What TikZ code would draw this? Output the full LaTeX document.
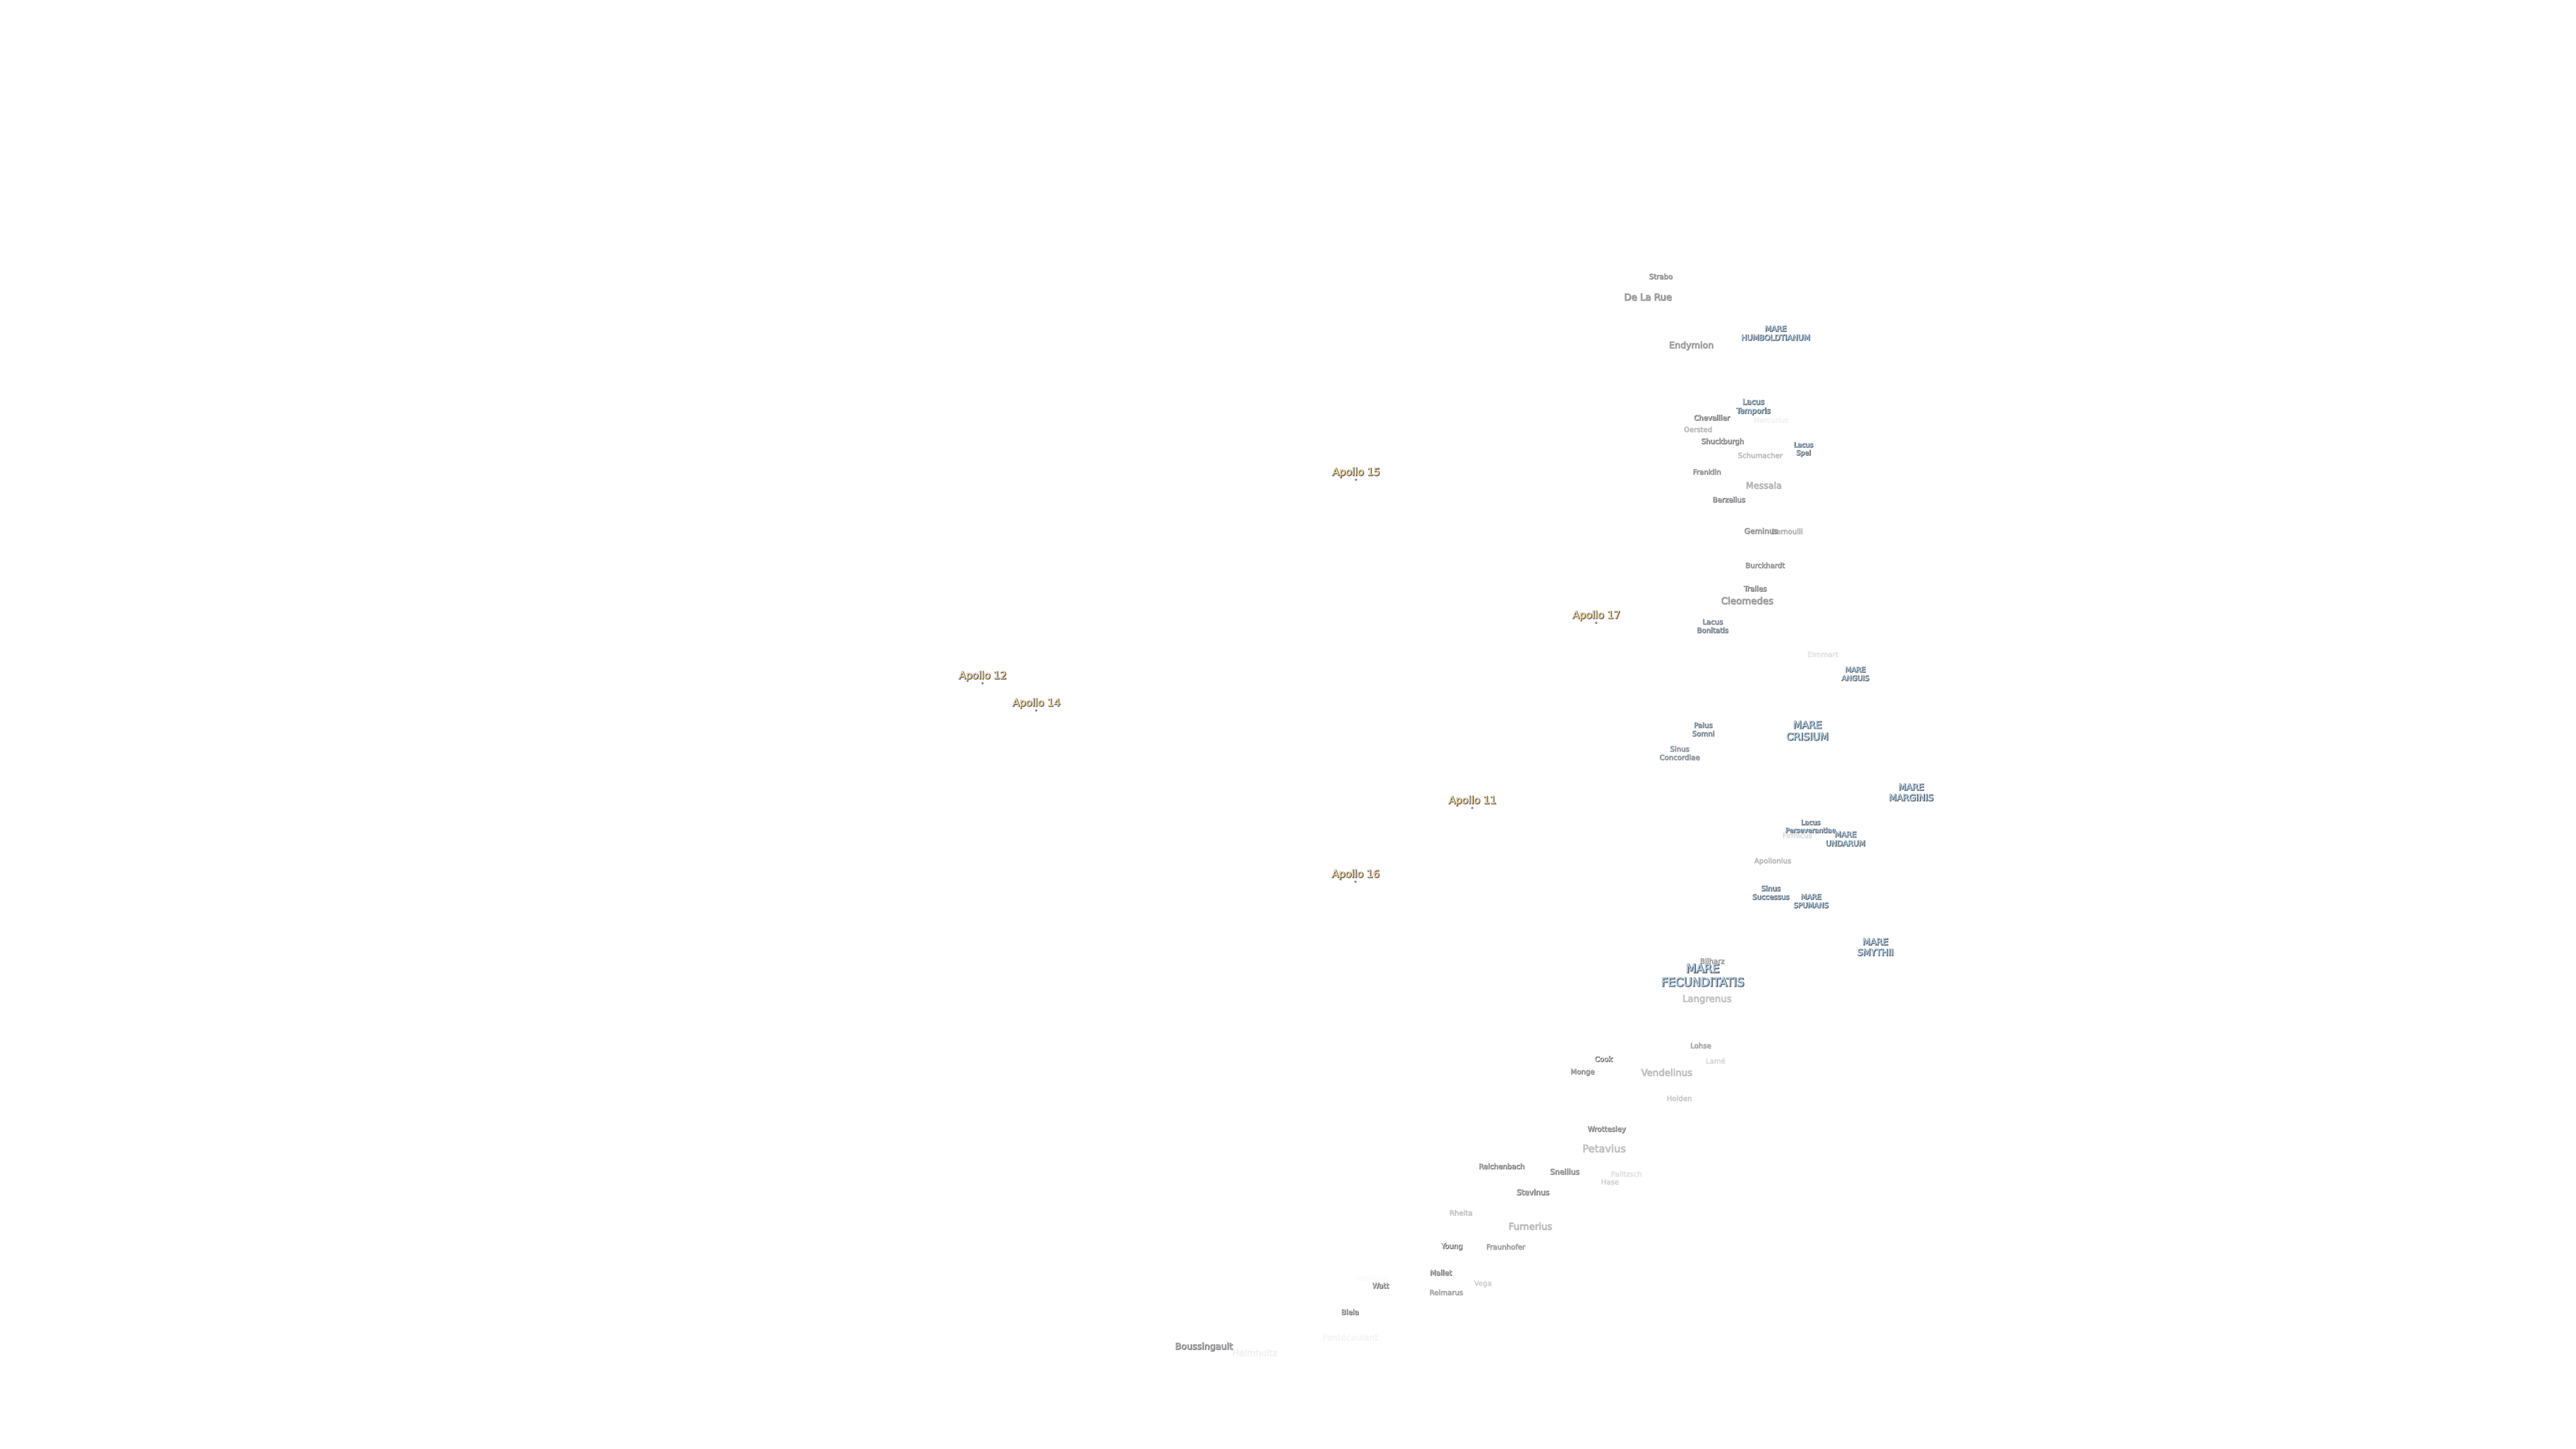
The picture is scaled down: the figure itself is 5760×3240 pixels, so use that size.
\documentclass[tikz,border=0pt]{standalone}
\usepackage{fontspec}
\setmainfont{DejaVu Sans}
\usepackage{xcolor}
\usepackage{tikz}
\definecolor{marefill}{rgb}{0.72, 0.85, 0.95}
\definecolor{apollofill}{rgb}{0.96, 0.86, 0.64}
\definecolor{craterfill}{rgb}{0.93, 0.93, 0.93}
\definecolor{rimedge}{rgb}{0.26, 0.26, 0.28}
\definecolor{rimhalo}{rgb}{0.62, 0.62, 0.63}
\newcommand{\rim}[1]{\leavevmode\rlap{\kern.4pt\raisebox{-.4pt}{\addfontfeature{FakeBold=8}\textcolor{rimhalo}{#1}}}\rlap{\kern.15pt\raisebox{-.15pt}{\addfontfeature{FakeBold=6}\textcolor{rimedge}{#1}}}{\addfontfeature{FakeBold=1.5}\textcolor{rimfill}{#1}}}
\tikzset{
    lbl/.style 2 args={inner sep=0pt, align=center, text opacity=#2, yshift=-.3pt,
        font=\fontsize{#1}{\dimexpr #1pt*118/100\relax}\selectfont},
    crater/.style 2 args={lbl={#1}{#2}, execute at begin node={\colorlet{rimfill}{craterfill}}},
    mare/.style 2 args={lbl={#1}{#2}, execute at begin node={\colorlet{rimfill}{marefill}}},
    apollo/.style={lbl={5.7}{1}, execute at begin node={\colorlet{rimfill}{apollofill}}},
    sitedot/.style={circle, fill=apollofill, draw=rimedge, line width=.2pt, inner sep=0pt, minimum size=1pt}
}

\begin{document}
\begin{tikzpicture}[x=.25pt, y=-.25pt]
    \useasboundingbox (0,0) rectangle (5760,3240);

    % Landing sites
    \node[apollo] (a15) at (3032,1056) {\rim{Apollo 15}};
    \node[apollo] (a17) at (3569,1376) {\rim{Apollo 17}};
    \node[apollo] (a12) at (2197,1511) {\rim{Apollo 12}};
    \node[apollo] (a14) at (2317,1572) {\rim{Apollo 14}};
    \node[apollo] (a11) at (3292,1790) {\rim{Apollo 11}};
    \node[apollo] (a16) at (3031,1955) {\rim{Apollo 16}};
    \node[sitedot] (s15) at (3032,1073) {};
    \node[sitedot] (s17) at (3569,1393) {};
    \node[sitedot] (s12) at (2197,1528) {};
    \node[sitedot] (s14) at (2317,1589) {};
    \node[sitedot] (s11) at (3292,1807) {};
    \node[sitedot] (s16) at (3031,1972) {};

    % Maria, lakes
    \node[mare={4.25}{1}] (humboldtianum) at (3970,744) {\rim{MARE}\\\rim{HUMBOLDTIANUM}};
    \node[mare={4.25}{1}] (temporis) at (3920,909) {\rim{Lacus}\\\rim{Temporis}};
    \node[mare={3.75}{1}] (spei) at (4032,1004) {\rim{Lacus}\\\rim{Spei}};
    \node[mare={4}{.55}] (bonitatis) at (3829,1399) {\rim{Lacus}\\\rim{Bonitatis}};
    \node[mare={4}{1}] (anguis) at (4148,1506) {\rim{MARE}\\\rim{ANGUIS}};
    \node[mare={4}{.55}] (somni) at (3808,1630) {\rim{Palus}\\\rim{Somni}};
    \node[mare={5.6}{1}] (crisium) at (4041,1633) {\rim{MARE}\\\rim{CRISIUM}};
    \node[mare={4}{.4}] (concordiae) at (3755,1683) {\rim{Sinus}\\\rim{Concordiae}};
    \node[mare={5}{1}] (marginis) at (4273,1771) {\rim{MARE}\\\rim{MARGINIS}};
    \node[crater={4}{.09}] (firmicus) at (4018,1867) {\rim{Firmicus}};
    \node[mare={3.75}{1}] (perseverantiae) at (4048,1847) {\rim{Lacus}\\\rim{Perseverantiae}};
    \node[mare={4.25}{1}] (undarum) at (4126,1875) {\rim{MARE}\\\rim{UNDARUM}};
    \node[mare={4}{.9}] (successus) at (3959,1995) {\rim{Sinus}\\\rim{Successus}};
    \node[mare={4}{1}] (spumans) at (4049,2014) {\rim{MARE}\\\rim{SPUMANS}};
    \node[mare={5}{1}] (smythii) at (4193,2117) {\rim{MARE}\\\rim{SMYTHII}};
    \node[crater={4}{.35}] (bilharz) at (3828,2148) {\rim{Bilharz}};
    \node[mare={6.5}{1}] (fecunditatis) at (3807,2180) {\rim{MARE}\\\rim{FECUNDITATIS}};

    % Craters, north
    \node[crater={4}{.5}] (strabo) at (3713,617) {\rim{Strabo}};
    \node[crater={5.25}{.5}] (delarue) at (3684,663) {\rim{De La Rue}};
    \node[crater={5}{.4}] (endymion) at (3781,772) {\rim{Endymion}};
    \node[crater={4}{.75}] (chevallier) at (3827,933) {\rim{Chevallier}};
    \node[crater={4}{.03}] (mercurius) at (3959,938) {\rim{Mercurius}};
    \node[crater={4}{.2}] (oersted) at (3796,959) {\rim{Oersted}};
    \node[crater={4}{.65}] (shuckburgh) at (3851,987) {\rim{Shuckburgh}};
    \node[crater={4}{.18}] (schumacher) at (3935,1017) {\rim{Schumacher}};
    \node[crater={4}{.45}] (franklin) at (3816,1054) {\rim{Franklin}};
    \node[crater={5}{.22}] (messala) at (3943,1084) {\rim{Messala}};
    \node[crater={4}{.75}] (berzelius) at (3865,1116) {\rim{Berzelius}};
    \node[crater={4}{.24}] (bernoulli) at (3995,1187) {\rim{Bernoulli}};
    \node[crater={4.25}{.45}] (geminus) at (3937,1186) {\rim{Geminus}};
    \node[crater={4}{.45}] (burckhardt) at (3946,1263) {\rim{Burckhardt}};
    \node[crater={4}{.75}] (tralles) at (3924,1315) {\rim{Tralles}};
    \node[crater={5.25}{.4}] (cleomedes) at (3906,1342) {\rim{Cleomedes}};
    \node[crater={4}{.07}] (elmmart) at (4075,1462) {\rim{Elmmart}};
    \node[crater={4}{.2}] (apollonius) at (3963,1925) {\rim{Apollonius}};
    \node[crater={5.25}{.17}] (langrenus) at (3816,2234) {\rim{Langrenus}};

    % Craters, south
    \node[crater={4}{.3}] (lohse) at (3802,2337) {\rim{Lohse}};
    \node[crater={4}{1}] (cook) at (3585,2367) {\rim{Cook}};
    \node[crater={4}{.09}] (lame) at (3835,2371) {\rim{Lamé}};
    \node[crater={4}{.5}] (monge) at (3538,2397) {\rim{Monge}};
    \node[crater={5.25}{.18}] (vendelinus) at (3726,2397) {\rim{Vendelinus}};
    \node[crater={4}{.14}] (holden) at (3754,2455) {\rim{Holden}};
    \node[crater={4}{.6}] (wrottesley) at (3592,2525) {\rim{Wrottesley}};
    \node[crater={5.75}{.17}] (petavius) at (3586,2567) {\rim{Petavius}};
    \node[crater={4}{.7}] (reichenbach) at (3357,2607) {\rim{Reichenbach}};
    \node[crater={4.25}{.55}] (snellius) at (3498,2619) {\rim{Snellius}};
    \node[crater={4}{.07}] (palitzsch) at (3636,2624) {\rim{Palitzsch}};
    \node[crater={4}{.11}] (hase) at (3599,2642) {\rim{Hase}};
    \node[crater={4.25}{.7}] (stevinus) at (3427,2665) {\rim{Stevinus}};
    \node[crater={4}{.16}] (rheita) at (3266,2711) {\rim{Rheita}};
    \node[crater={5.25}{.2}] (furnerius) at (3421,2741) {\rim{Furnerius}};
    \node[crater={4}{.9}] (young) at (3246,2787) {\rim{Young}};
    \node[crater={4}{.35}] (fraunhofer) at (3366,2787) {\rim{Fraunhofer}};
    \node[crater={4}{.75}] (mallet) at (3221,2845) {\rim{Mallet}};
    \node[crater={4}{.01}] (steinheil) at (3067,2857) {\rim{Steinheil}};
    \node[crater={4}{.11}] (vega) at (3315,2870) {\rim{Vega}};
    \node[crater={4}{1}] (watt) at (3086,2874) {\rim{Watt}};
    \node[crater={4}{.3}] (reimarus) at (3233,2889) {\rim{Reimarus}};
    \node[crater={4}{.85}] (biela) at (3018,2933) {\rim{Biela}};
    \node[crater={4.75}{.025}] (pontecoulant) at (3018,2989) {\rim{Pontécoulant}};
    \node[crater={5}{.65}] (boussingault) at (2691,3011) {\rim{Boussingault}};
    \node[crater={5}{.03}] (helmholtz) at (2805,3024) {\rim{Helmholtz}};
\end{tikzpicture}
\end{document}
